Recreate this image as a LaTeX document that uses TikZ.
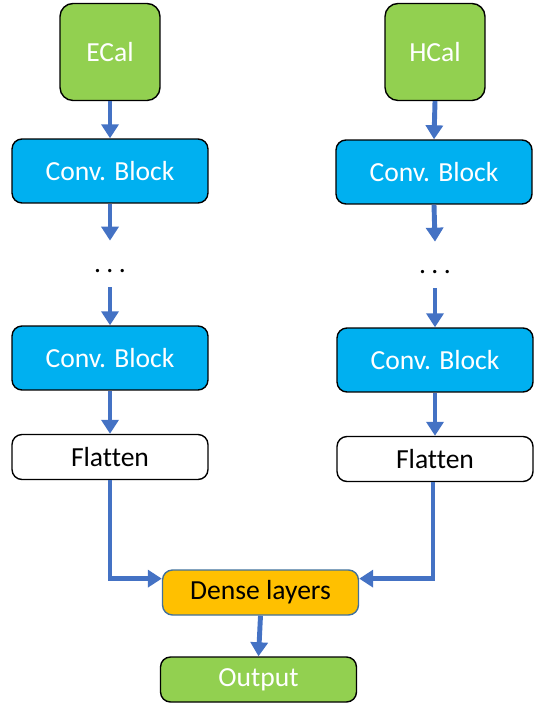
\documentclass[tikz,border=0pt]{standalone}
\usepackage{fontspec}
\setmainfont{Carlito}[Ligatures=NoCommon]
\usetikzlibrary{arrows.meta}
\usetikzlibrary{positioning}
\definecolor{calgreen}{HTML}{92D050}
\definecolor{convblue}{HTML}{00B0F0}
\definecolor{denseorange}{HTML}{FFC000}
\definecolor{denseedge}{HTML}{41719C}
\definecolor{flowblue}{HTML}{4472C4}

\begin{document}
\begin{tikzpicture}[x=0.02cm, y=-0.02cm,
		box/.style={draw=black, line width=0.8pt, rounded corners=0.2cm, minimum width=3.92cm, minimum height=0.9cm, inner sep=0pt, font=\fontsize{15.7}{18}\selectfont},
		cal/.style={box, fill=calgreen, text=white, minimum width=2cm, minimum height=1.94cm, rounded corners=0.26cm},
		conv/.style={box, fill=convblue, text=white, minimum height=1.28cm},
		flat/.style={box, fill=white},
		dots/.style={inner sep=0pt, anchor=base, text height=0.64cm, text depth=0.28cm, font=\fontsize{15.7}{18}\selectfont},
		flow/.style={draw=flowblue, line width=2.8pt, -{Triangle[width=0.34cm, length=0.28cm]}}]
		\useasboundingbox (0,0) rectangle (537,709);
		% two calorimeter branches
		\node[cal] (ecal) at (110,52) {ECal};
		\node[cal] (hcal) at (435,52) {HCal};
		\node[conv] (convA1) at (110,171) {Conv. Block};
		\node[conv] (convB1) at (434,172) {Conv. Block};
		\node[dots] (dotsA) at (110,273) {.\hspace{0.2em}.\hspace{0.2em}.};
		\node[dots] (dotsB) at (435,274) {.\hspace{0.2em}.\hspace{0.2em}.};
		\node[conv] (convA2) at (110,358) {Conv. Block};
		\node[conv] (convB2) at (435,360) {Conv. Block};
		\node[flat] (flatA) at (110,457) {Flatten};
		\node[flat] (flatB) at (435,459) {Flatten};
		% merged head
		\node[box, fill=denseorange, draw=denseedge] (dense) at (260.5,592.5) {Dense layers};
		\node[box, fill=calgreen, text=white] (output) at (258.5,679.5) {Output};
		\draw[flow] (ecal.south) -- (convA1.north);
		\draw[flow] (hcal.south) -- (convB1.north);
		\draw[flow] (convA1.south) -- (dotsA.north);
		\draw[flow] (convB1.south) -- (dotsB.north);
		\draw[flow] (dotsA.south) -- (convA2.north);
		\draw[flow] (dotsB.south) -- (convB2.north);
		\draw[flow] (convA2.south) -- (flatA.north);
		\draw[flow] (convB2.south) -- (flatB.north);
		\draw[flow] (flatA.south) |- (dense.172);
		\draw[flow] ([xshift=-0.04cm]flatB.south) |- (dense.8);
		\draw[flow] (dense.south) -- (output.north);
	    \end{tikzpicture}
\end{document}
